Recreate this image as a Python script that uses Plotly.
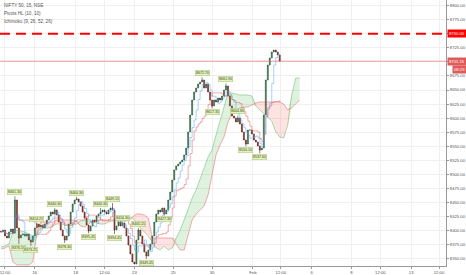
import plotly.graph_objects as go
import pandas as pd
import numpy as np

# ---------------- data ----------------
first_open = 8399.0
closes = [
    8397.9, 8401.4, 8390.8, 8387.2, 8397.9, 8403.2, 8396.1, 8454.7, 8405.0, 8387.2,
    8392.5, 8394.3, 8390.8, 8394.3, 8383.6, 8380.1, 8390.8, 8405.0, 8412.1, 8406.8,
    8410.3, 8405.0, 8412.1, 8419.2, 8426.3, 8433.4, 8429.8, 8436.9, 8428.0, 8415.6,
    8401.4, 8390.8, 8383.6, 8390.8, 8412.1, 8433.4, 8447.6, 8454.7, 8456.4, 8451.1,
    8444.0, 8433.4, 8422.7, 8410.3, 8399.6, 8408.5, 8419.2, 8415.6, 8426.3, 8429.8,
    8433.4, 8436.9, 8433.4, 8429.8, 8436.9, 8440.5, 8436.9, 8401.4, 8408.5, 8415.6,
    8408.5, 8413.8, 8405.0, 8390.8, 8374.8, 8358.8, 8344.6, 8341.0, 8383.6, 8401.4,
    8390.8, 8376.5, 8362.3, 8355.2, 8365.9, 8376.5, 8390.8, 8415.6, 8429.8, 8436.9,
    8433.4, 8440.5, 8429.8, 8436.9, 8454.7, 8468.9, 8490.2, 8508.0, 8515.1, 8518.6,
    8522.2, 8525.7, 8534.6, 8547.0, 8575.4, 8605.6, 8632.2, 8646.4, 8653.5, 8660.6,
    8664.2, 8667.8, 8653.5, 8660.6, 8646.4, 8632.2, 8621.6, 8632.2, 8628.7, 8635.8,
    8632.2, 8639.3, 8650.0, 8657.1, 8639.3, 8621.6, 8603.8, 8600.3, 8593.2, 8600.3,
    8589.6, 8575.4, 8561.2, 8554.1, 8579.0, 8579.0, 8571.9, 8561.2, 8557.7, 8550.6,
    8543.5, 8547.0, 8605.6, 8667.8, 8694.4, 8706.8, 8717.5, 8721.0, 8717.5, 8712.1,
    8701.15,
]

# pivot points (bar index, price, kind)
pivot_bar = [7, 9, 15, 18, 27, 32, 38, 44, 50, 56, 57, 61, 69, 73, 82,
             101, 106, 113, 119, 123, 130]
pivot_price = [8461.30, 8376.50, 8373.25, 8414.25, 8440.30, 8378.30, 8460.30,
               8395.45, 8440.30, 8449.15, 8394.45, 8416.30, 8405.15, 8349.45,
               8427.30, 8672.70, 8617.35, 8661.90, 8604.80, 8550.10, 8537.60]
pivot_kind = ["H", "L", "L", "H", "H", "L", "H", "L", "H", "H", "L", "H", "H",
              "L", "L", "H", "L", "H", "H", "L", "L"]

# Ichimoku leading spans (already displaced), one value every 2 bars
span_a = [
    8371.2, 8373.0, 8376.5, 8397.9, 8401.4, 8399.6, 8397.9, 8394.3, 8390.8, 8394.3,
    8405.0, 8405.0, 8405.0, 8408.5, 8412.1, 8412.1, 8410.3, 8410.3, 8410.3, 8412.1,
    8417.4, 8419.2, 8417.4, 8415.6, 8413.8, 8412.1, 8412.1, 8415.6, 8417.4, 8417.4,
    8415.6, 8415.6, 8419.2, 8422.7, 8415.6, 8405.0, 8397.9, 8390.8, 8380.1, 8369.5,
    8365.9, 8373.0, 8365.9, 8369.5, 8387.2, 8401.4, 8419.2, 8440.5, 8458.2, 8472.4,
    8490.2, 8511.5, 8531.0, 8543.5, 8570.1, 8596.7, 8619.8, 8644.7, 8644.7, 8642.9,
    8641.1, 8641.1, 8641.1, 8639.3, 8621.6, 8614.5, 8607.4, 8602.1, 8594.9, 8575.4,
    8566.5, 8564.8, 8587.8, 8641.1, 8671.3, 8671.3,
]
span_b = [
    8367.7, 8369.4, 8373.0, 8344.6, 8339.3, 8339.3, 8339.3, 8339.3, 8344.6, 8394.3,
    8415.6, 8415.6, 8415.6, 8415.6, 8419.2, 8419.2, 8419.2, 8419.2, 8419.2, 8417.4,
    8408.5, 8406.8, 8412.1, 8417.4, 8419.2, 8419.2, 8419.2, 8419.2, 8419.2, 8419.2,
    8420.9, 8420.9, 8420.9, 8424.5, 8429.8, 8429.8, 8428.0, 8422.7, 8387.2, 8387.2,
    8387.2, 8387.2, 8387.2, 8387.2, 8376.5, 8365.9, 8365.9, 8392.5, 8419.2, 8429.8,
    8436.9, 8444.0, 8463.6, 8499.1, 8534.6, 8552.3, 8566.5, 8593.2, 8609.2, 8614.5,
    8618.0, 8619.8, 8619.8, 8623.4, 8626.9, 8628.7, 8628.7, 8628.7, 8628.7, 8628.7,
    8628.7, 8625.1, 8614.5, 8618.0, 8625.1, 8632.2,
]

x_tick_bars = [2, 17, 37.5, 52, 67, 86.5, 106, 126.5, 140.5, 156, 176, 190.5, 206, 220]
x_tick_text = ["12:00", "16", "18", "12:00", "23", "25", "30", "Feb", "12:00",
               "6", "8", "12:00", "13", "12:00"]
y_ticks = [8350, 8375, 8400, 8425, 8450, 8475, 8500, 8525, 8550, 8575, 8600,
           8625, 8650, 8675, 8700, 8725, 8750, 8775, 8800]
alert_level = 8750.00
last_price = 8701.15
countdown = "08:29"
legend_lines = ["NIFTY 50, 15, NSE", "Pivots HL (10, 10)", "Ichimoku (9, 26, 52, 26)"]

# ---------------- derived ----------------
n = len(closes)
bars = list(range(n))
opens = [first_open] + closes[:-1]
highs = [max(o, c) for o, c in zip(opens, closes)]
lows = [min(o, c) for o, c in zip(opens, closes)]
for b, p, k in zip(pivot_bar, pivot_price, pivot_kind):
    if k == "H":
        highs[b] = max(highs[b], p)
    else:
        lows[b] = min(lows[b], p)

hs = pd.Series(highs)
ls = pd.Series(lows)
tenkan = (hs.rolling(4, min_periods=1).max() + ls.rolling(4, min_periods=1).min()) / 2
kijun = (hs.rolling(10, min_periods=1).max() + ls.rolling(10, min_periods=1).min()) / 2

cloud_x = [2 * i for i in range(len(span_a))]
a = np.array(span_a)
b = np.array(span_b)
upper = np.maximum(a, b)
lower = np.minimum(a, b)

FONT = "Liberation Sans"
fig = go.Figure()

# cloud fills
fig.add_trace(go.Scatter(x=cloud_x, y=span_b, mode="lines", line=dict(width=0),
                         hoverinfo="skip", showlegend=False))
fig.add_trace(go.Scatter(x=cloud_x, y=upper, mode="lines", line=dict(width=0),
                         fill="tonexty", fillcolor="rgba(76,175,80,0.18)",
                         hoverinfo="skip", showlegend=False))
fig.add_trace(go.Scatter(x=cloud_x, y=span_b, mode="lines", line=dict(width=0),
                         hoverinfo="skip", showlegend=False))
fig.add_trace(go.Scatter(x=cloud_x, y=lower, mode="lines", line=dict(width=0),
                         fill="tonexty", fillcolor="rgba(244,67,54,0.15)",
                         hoverinfo="skip", showlegend=False))
fig.add_trace(go.Scatter(x=cloud_x, y=span_a, mode="lines",
                         line=dict(color="rgba(76,175,80,0.55)", width=0.8),
                         hoverinfo="skip", showlegend=False))
fig.add_trace(go.Scatter(x=cloud_x, y=span_b, mode="lines",
                         line=dict(color="rgba(229,57,53,0.5)", width=0.8),
                         hoverinfo="skip", showlegend=False))

# base & conversion lines
fig.add_trace(go.Scatter(x=bars, y=kijun, mode="lines",
                         line=dict(color="rgba(229,80,80,0.6)", width=0.8, shape="hv"),
                         hoverinfo="skip", showlegend=False))
fig.add_trace(go.Scatter(x=bars, y=tenkan, mode="lines",
                         line=dict(color="rgba(70,160,240,0.6)", width=0.8, shape="hv"),
                         hoverinfo="skip", showlegend=False))

# candles
fig.add_trace(go.Candlestick(
    x=bars, open=opens, high=highs, low=lows, close=closes,
    increasing=dict(line=dict(color="#225437", width=0.6), fillcolor="#4a8d63"),
    decreasing=dict(line=dict(color="#5b1a13", width=0.6), fillcolor="#b5473a"),
    whiskerwidth=0, showlegend=False, hoverinfo="skip"))

shapes = [
    dict(type="line", xref="paper", x0=0, x1=1, yref="y", y0=alert_level, y1=alert_level,
         line=dict(color="#ff0000", width=2, dash="10px,6px")),
    dict(type="line", xref="paper", x0=0, x1=1, yref="y", y0=last_price, y1=last_price,
         line=dict(color="rgba(229,115,115,0.7)", width=1)),
]

annotations = []
for i, t in enumerate(legend_lines):
    annotations.append(dict(xref="paper", yref="paper", x=0.004, y=1 - (6 + 7.5 * i) / 266,
                            xanchor="left", yanchor="middle", text=t, showarrow=False,
                            font=dict(family=FONT, size=4.6, color="#555")))

annotations.append(dict(xref="paper", yref="y", x=1.0, y=alert_level, xanchor="left",
                        yanchor="middle", text=f"{alert_level:.2f}", showarrow=False,
                        bgcolor="#ff0000", borderpad=1, xshift=1,
                        font=dict(family=FONT, size=4.2, color="white")))
annotations.append(dict(xref="paper", yref="y", x=1.0, y=last_price, xanchor="left",
                        yanchor="middle", text=f"{last_price:.2f}", showarrow=False,
                        bgcolor="#e05a5a", borderpad=1, xshift=1,
                        font=dict(family=FONT, size=4.2, color="white")))
annotations.append(dict(xref="paper", yref="y", x=1.0, y=last_price, xanchor="left",
                        yanchor="middle", text=countdown, showarrow=False,
                        bgcolor="#e05a5a", borderpad=1, xshift=6, yshift=-8,
                        font=dict(family=FONT, size=4.2, color="white")))

for bi, p, k in zip(pivot_bar, pivot_price, pivot_kind):
    annotations.append(dict(xref="x", yref="y", x=bi, y=p,
                            xanchor="center", yanchor="bottom" if k == "H" else "top",
                            yshift=1 if k == "H" else -1,
                            text=f"{p:.2f}", showarrow=False,
                            bgcolor="#e4f1bd", bordercolor="#a9c47a", borderwidth=0.5,
                            borderpad=0.5,
                            font=dict(family=FONT, size=3.6, color="#3b4a22")))

fig.update_layout(
    width=466, height=275,
    margin=dict(l=0, r=18, t=0, b=9),
    paper_bgcolor="white", plot_bgcolor="white",
    showlegend=False, hovermode=False,
    shapes=shapes, annotations=annotations,
    xaxis=dict(range=[-0.5, 223.5], tickvals=x_tick_bars, ticktext=x_tick_text,
               showgrid=True, gridcolor="#f0f0f0", gridwidth=1,
               showline=True, linecolor="#9a9a9a", linewidth=1,
               ticks="outside", ticklen=2, tickcolor="#9a9a9a",
               ticklabeloverflow="allow",
               tickfont=dict(family=FONT, size=4.2, color="#555"),
               rangeslider=dict(visible=False), zeroline=False, fixedrange=True),
    yaxis=dict(range=[8337.5, 8809.8], side="right", tickvals=y_ticks,
               ticktext=[f"{v:.2f}" for v in y_ticks],
               showgrid=True, gridcolor="#f0f0f0", gridwidth=1,
               showline=True, linecolor="#9a9a9a", linewidth=1,
               ticks="outside", ticklen=2, tickcolor="#9a9a9a",
               ticklabeloverflow="allow",
               tickfont=dict(family=FONT, size=4.2, color="#555"),
               zeroline=False, fixedrange=True),
)

fig.write_html("out.html")
